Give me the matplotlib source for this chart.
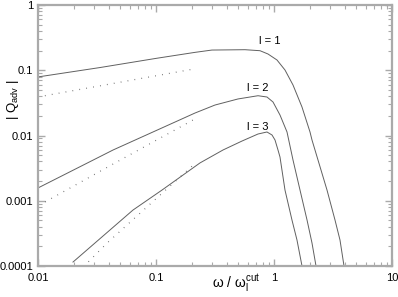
import matplotlib
matplotlib.use("Agg")
import matplotlib.pyplot as plt
from matplotlib.ticker import FixedLocator, FixedFormatter, LogLocator, NullFormatter

plt.rcParams['font.family'] = ['Liberation Sans', 'DejaVu Sans']
plt.rcParams['mathtext.fontset'] = 'custom'
plt.rcParams['mathtext.rm'] = 'Liberation Sans'
plt.rcParams['mathtext.it'] = 'Liberation Sans'

# l = 1 (solid) and its low-frequency asymptote (dotted)
x1 = [0.01, 0.0335, 0.1, 0.214, 0.298, 0.568, 0.761, 0.889, 1.060, 1.239, 1.449,
      1.727, 2.019, 2.099, 2.360, 2.813, 3.288, 3.625, 3.92]
y1 = [0.079, 0.11, 0.152, 0.188, 0.204, 0.2065, 0.1993, 0.1775, 0.1436, 0.1009, 0.0594,
      0.0273, 0.01132, 0.00853, 0.00421, 0.00146, 0.000507, 0.00025, 0.0001]
x1d = [0.01, 0.206]
y1d = [0.039, 0.104]

# l = 2
x2 = [0.01, 0.0433, 0.214, 0.316, 0.495, 0.732, 0.872, 0.981, 1.124, 1.289, 1.449,
      1.661, 1.905, 2.099, 2.27]
y2 = [0.00157, 0.006, 0.0221, 0.0293, 0.0363, 0.0407, 0.0389, 0.0326, 0.0206, 0.01132,
      0.00421, 0.00146, 0.000507, 0.000225, 0.0001]
x2d = [0.0115, 0.045, 0.206]
y2d = [0.00096, 0.0038, 0.0173]

# l = 3
x3 = [0.0198, 0.0638, 0.1125, 0.236, 0.370, 0.536, 0.732, 0.872, 0.962, 1.020, 1.081,
      1.124, 1.239, 1.420, 1.566, 1.727]
y3 = [0.000115, 0.00072, 0.00146, 0.0038, 0.006, 0.00823, 0.01054, 0.01132, 0.01018,
      0.00853, 0.006, 0.00468, 0.00146, 0.000507, 0.00025, 0.0001]
x3d = [0.024, 0.027, 0.0385, 0.206]
y3d = [0.0001, 0.000118, 0.000225, 0.0035]

xticks = [0.01, 0.1, 1, 10]
xtick_labels = ["0.01", "0.1", "1", "10"]
yticks = [0.0001, 0.001, 0.01, 0.1, 1]
ytick_labels = ["0.0001", "0.001", "0.01", "0.1", "1"]

line_col = "#606060"
axis_col = "#aaaaaa"

fig = plt.figure(figsize=(3.98, 2.97), dpi=100)
ax = fig.add_axes([38/398, 1 - 266/297, (392 - 38)/398, (266 - 5)/297])

for x, y in [(x1, y1), (x2, y2), (x3, y3)]:
    ax.plot(x, y, color=line_col, lw=0.7)
for x, y in [(x1d, y1d), (x2d, y2d), (x3d, y3d)]:
    ax.plot(x, y, color=line_col, lw=0.9, linestyle=(0, (0.6, 5)))

ax.set_xscale("log")
ax.set_yscale("log")
ax.set_xlim(0.01, 10)
ax.set_ylim(0.0001, 1)

ax.xaxis.set_major_locator(FixedLocator(xticks))
ax.xaxis.set_major_formatter(FixedFormatter(xtick_labels))
ax.yaxis.set_major_locator(FixedLocator(yticks))
ax.yaxis.set_major_formatter(FixedFormatter(ytick_labels))
ax.xaxis.set_minor_locator(LogLocator(base=10, subs=range(2, 10)))
ax.yaxis.set_minor_locator(LogLocator(base=10, subs=range(2, 10)))
ax.xaxis.set_minor_formatter(NullFormatter())
ax.yaxis.set_minor_formatter(NullFormatter())

ax.tick_params(which="both", direction="in", top=True, right=True, color=axis_col,
               labelsize=8, labelcolor="black")
ax.tick_params(which="major", length=5, width=1)
ax.tick_params(which="minor", length=3, width=0.8)
ax.tick_params(axis="x", pad=5)
for s in ax.spines.values():
    s.set_color(axis_col)
    s.set_linewidth(1.6)

ax.text(0.925, 0.252, "l = 1", fontsize=8, ha="center", va="baseline")
ax.text(0.732, 0.0486, "l = 2", fontsize=8, ha="center", va="baseline")
ax.text(0.725, 0.0121, "l = 3", fontsize=8, ha="center", va="baseline")

fig.text(13/398, 1 - 100/297, "| Q$_{\\mathrm{adv}}$ |", rotation=90, fontsize=9.5,
         ha="center", va="center")
fig.text(236/398, 1 - 283/297, "ω / ω$_{\\mathrm{l}}^{\\mathrm{cut}}$", fontsize=10,
         ha="center", va="center")

fig.savefig("out.png", dpi=100)
